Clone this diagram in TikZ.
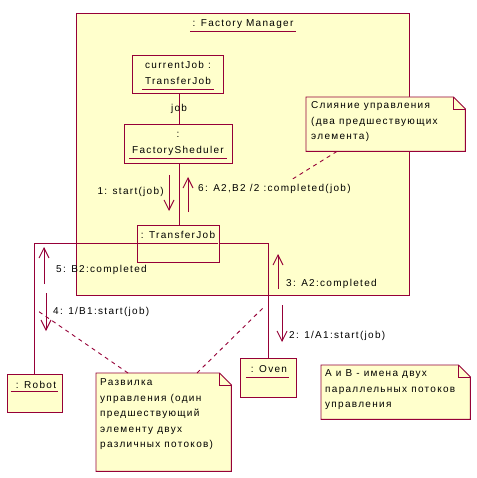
\documentclass[tikz,border=0pt]{standalone}
\usepackage{fontspec}
\setmainfont{Liberation Sans}[LetterSpace=13]
\usetikzlibrary{arrows.meta,calc}
\definecolor{umlline}{RGB}{150,0,56}
\definecolor{umlfill}{RGB}{255,255,204}
\newcommand{\notefold}[1]{%
  \filldraw[draw=umlline,fill=umlfill,line width=0.9pt] (#1.north west) -- ([xshift=-12pt]#1.north east)
    -- ([yshift=-12pt]#1.north east) -- (#1.south east) -- (#1.south west) -- cycle;
  \draw[umlline,line width=0.9pt] ([xshift=-12pt]#1.north east) |- ([yshift=-12pt]#1.north east);}

\begin{document}
\begin{tikzpicture}[
  x=1pt, y=-1pt,
  font=\fontsize{10}{15.5}\selectfont,
  every node/.style={inner sep=0pt},
  obj/.style={draw=umlline, fill=umlfill, line width=0.9pt, rectangle},
  notebox/.style={rectangle, anchor=north west},
  notetext/.style={anchor=north west, align=left},
  uline/.style={umlline, line width=0.9pt},
  link/.style={umlline, line width=0.9pt},
  msg/.style={umlline, line width=0.9pt, -{Straight Barb[length=10pt,width=10pt]}},
  msglabel/.style={anchor=base west},
  attach/.style={umlline, line width=0.9pt, dash pattern=on 4pt off 4pt}
]
\useasboundingbox (0,0) rectangle (476,478);
\fill[white] (0,0) rectangle (476,478);

% composite object
\node[obj, anchor=north west, minimum width=333pt, minimum height=282pt] (mgr) at (76,13) {};
\node[anchor=base] (mgrname) at (243,27) {: Factory Manager};
\draw[uline] ([xshift=-2pt,yshift=-4pt]mgrname.base west) -- ([xshift=2pt,yshift=-4pt]mgrname.base east);

% links
\node[obj, minimum width=91pt, minimum height=38pt] (cur) at (177.5,74) {};
\node[obj, minimum width=108pt, minimum height=39pt] (sched) at (178.5,143.5) {};
\node[obj, minimum width=82pt, minimum height=37pt] (tj) at (178,243.5) {};
\node[obj, minimum width=55pt, minimum height=38pt] (robot) at (34.5,393) {};
\node[obj, minimum width=56pt, minimum height=39pt] (oven) at (268,377.5) {};

\draw[link] (cur.south -| 179,0) -- node[text=black] (joblbl) {\raisebox{-2pt}{job}} (sched.north -| 179,0);
\draw[link] (sched.south -| 179,0) -- (tj.north -| 179,0);
\draw[link] (tj.west) -| (robot.north);
\draw[link] (tj.east) -| (oven.north);

% object names
\node[anchor=base] (curname) at (178,69) {currentJob :};
\node[anchor=base] (curtype) at (178,85) {TransferJob};
\draw[uline] ([xshift=-3pt,yshift=-4pt]curtype.base west) -- ([xshift=3pt,yshift=-4pt]curtype.base east);

\node[anchor=base] (schedcolon) at (178,138) {:};
\node[anchor=base] (schedname) at (178,154) {FactorySheduler};
\draw[uline] ([xshift=-3pt,yshift=-4pt]schedname.base west) -- ([xshift=3pt,yshift=-4pt]schedname.base east);

\node[anchor=base] (tjname) at (178,238) {: TransferJob};
\draw[uline] ([xshift=-3pt,yshift=-5pt]tjname.base west) -- ([xshift=3pt,yshift=-5pt]tjname.base east);

\node[anchor=base] (robotname) at (36,388) {: Robot};
\draw[uline] ([xshift=-5pt,yshift=-3pt]robotname.base west) -- ([xshift=2pt,yshift=-3pt]robotname.base east);

\node[anchor=base] (ovenname) at (269,372) {: Oven};
\draw[uline] ([xshift=-5pt,yshift=-5pt]ovenname.base west) -- ([xshift=2pt,yshift=-5pt]ovenname.base east);

% messages
\coordinate (m1a) at (169,175); \coordinate (m1b) at (169,211);
\coordinate (m6a) at (188,212); \coordinate (m6b) at (188,177);
\coordinate (m5a) at (44,284);  \coordinate (m5b) at (44,247);
\coordinate (m4a) at (46,293);  \coordinate (m4b) at (46,331);
\coordinate (m3a) at (278,289); \coordinate (m3b) at (278,254);
\coordinate (m2a) at (282,305); \coordinate (m2b) at (282,342);
\draw[msg] (m1a) -- (m1b);
\draw[msg] (m6a) -- (m6b);
\draw[msg] (m5a) -- (m5b);
\draw[msg] (m4a) -- (m4b);
\draw[msg] (m3a) -- (m3b);
\draw[msg] (m2a) -- (m2b);
\node[anchor=base east] (m1lbl) at (164,194) {1: start(job)};
\node[msglabel] (m6lbl) at (198,191) {6: A2,B2 /2 :completed(job)};
\node[msglabel] (m5lbl) at (56,272) {5: B2:completed};
\node[msglabel] (m4lbl) at (53,314) {4: 1/B1:start(job)};
\node[msglabel] (m3lbl) at (286,286) {3: A2:completed};
\node[msglabel] (m2lbl) at (289,338) {2: 1/A1:start(job)};

% notes
\node[notebox, minimum width=159pt, minimum height=54pt] (merge) at (306,97) {};
\notefold{merge}
\node[notetext] (mergetext) at (311,101.5) {Слияние управления\\(два предшествующих\\элемента)};

\node[notebox, minimum width=135pt, minimum height=98pt] (fork) at (96,373) {};
\notefold{fork}
\node[notetext] (forktext) at (100,378.5) {Развилка\\управления (один\\предшествующий\\элементу двух\\различных потоков)};

\node[notebox, minimum width=149pt, minimum height=54pt] (ab) at (321,365) {};
\notefold{ab}
\node[notetext] (abtext) at (325,369.5) {A и B - имена двух\\параллельных потоков\\управления};

% note anchors
\coordinate (mergeend) at (291,180);
\coordinate (forkend1) at (38,311);
\coordinate (forkend2) at (265,306);
\draw[attach] ($(merge.south west)+(31,0)$) -- (mergeend);
\draw[attach] ($(fork.north west)+(32,0)$) -- (forkend1);
\draw[attach] ($(fork.north west)+(101,0)$) -- (forkend2);
\end{tikzpicture}
\end{document}
